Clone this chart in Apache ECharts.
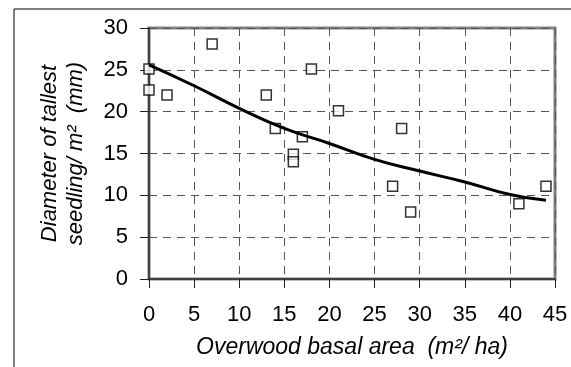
<!DOCTYPE html>
<html>
<head>
<meta charset="utf-8">
<script src="https://cdn.jsdelivr.net/npm/echarts@6/dist/echarts.min.js"></script>
<style>
  html, body { margin: 0; padding: 0; background: #fff; }
  #chart { width: 571px; height: 367px; }
</style>
</head>
<body>
<div id="chart"></div>
<script>
// Observed points: overwood basal area (m²/ha) vs diameter (mm)
const basalArea = [0, 0, 2, 7, 13, 14, 16, 16, 17, 18, 21, 27, 28, 29, 41, 44];
const diameter = [25.1, 22.6, 22.0, 28.1, 22.0, 18.0, 14.9, 14.0, 17.0, 25.1, 20.1, 11.1, 18.0, 8.0, 9.0, 11.1];

// Trend line
const trendX = [0, 5, 10, 15, 20, 25, 30, 35, 40, 44];
const trendY = [25.6, 23.1, 20.4, 18.0, 16.2, 14.3, 12.9, 11.6, 10.1, 9.4];

const xTicks = { min: 0, max: 45, interval: 5 };
const yTicks = { min: 0, max: 30, interval: 5 };

const font = "'Liberation Sans', Arial, sans-serif";

const chart = echarts.init(document.getElementById("chart"));

const gridLine = {
  show: true,
  lineStyle: { color: "#555", width: 1, type: [8, 6] },
};

const option = {
  animation: false,
  graphic: [
    {
      type: "rect",
      shape: { x: 14, y: 9, width: 700, height: 500 },
      style: { fill: "none", stroke: "#000", lineWidth: 1 },
      silent: true,
    },
  ],
  grid: {
    left: 149,
    right: 16,
    top: 28,
    bottom: 88,
    show: true,
    borderColor: "#808080",
    borderWidth: 3,
  },
  xAxis: {
    type: "value",
    ...xTicks,
    name: "Overwood basal area  (m²/ ha)",
    nameLocation: "middle",
    nameGap: 57,
    nameTextStyle: { fontSize: 23, fontStyle: "italic", color: "#000", fontFamily: font },
    axisLine: { show: true, onZero: false, lineStyle: { color: "#404040", width: 2 } },
    axisTick: { show: true, length: 9, lineStyle: { color: "#222", width: 1 } },
    axisLabel: { fontSize: 22, color: "#000", margin: 25, fontFamily: font },
    splitLine: gridLine,
  },
  yAxis: {
    type: "value",
    ...yTicks,
    name: "Diameter of tallest\nseedling/ m²  (mm)",
    nameLocation: "middle",
    nameRotate: 90,
    nameGap: 60,
    nameTextStyle: { fontSize: 22, fontStyle: "italic", color: "#000", fontFamily: font, lineHeight: 26 },
    axisLine: { show: true, onZero: false, lineStyle: { color: "#404040", width: 2 } },
    axisTick: { show: true, length: 9, lineStyle: { color: "#222", width: 1 } },
    axisLabel: { fontSize: 22, color: "#000", margin: 21, fontFamily: font },
    splitLine: gridLine,
  },
  series: [
    {
      type: "scatter",
      data: basalArea.map((x, i) => [x, diameter[i]]),
      symbol: "rect",
      symbolSize: 10,
      itemStyle: { color: "#fff", borderColor: "#000", borderWidth: 1.5 },
      z: 3,
    },
    {
      type: "line",
      data: trendX.map((x, i) => [x, trendY[i]]),
      smooth: true,
      showSymbol: false,
      lineStyle: { color: "#000", width: 3 },
      z: 4,
    },
  ],
};

chart.setOption(option);
</script>
</body>
</html>
